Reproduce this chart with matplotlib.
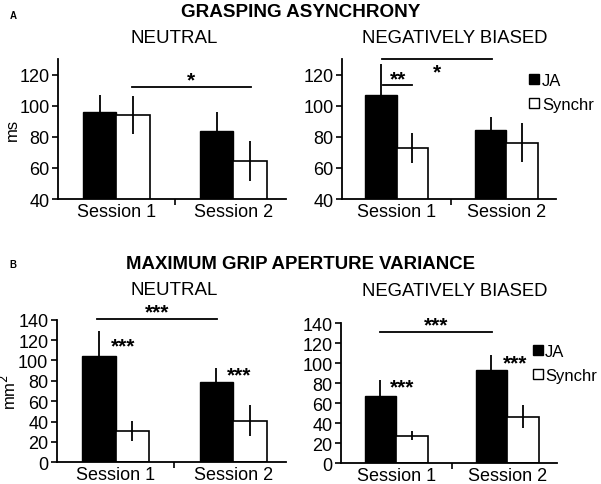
import matplotlib
matplotlib.use("Agg")
import matplotlib.pyplot as plt
from matplotlib.lines import Line2D
import numpy as np

# -- Data ---------------------------------------------------------------------
sessions = ["Session 1", "Session 2"]
groups = ["JA", "Synchr"]

# A: grasping asynchrony (ms)
async_neutral_ja = [96, 83.5]
async_neutral_ja_err = [11, 12.5]
async_neutral_sy = [94, 64.5]
async_neutral_sy_err = [12, 13]
async_neg_ja = [107, 84.5]
async_neg_ja_err = [20, 8.3]
async_neg_sy = [73, 76.3]
async_neg_sy_err = [9.7, 12.7]

# B: maximum grip aperture variance (mm^2)
mga_neutral_ja = [104.5, 78.5]
mga_neutral_ja_err = [24, 14]
mga_neutral_sy = [30.7, 40.9]
mga_neutral_sy_err = [10, 15.4]
mga_neg_ja = [67.6, 93.6]
mga_neg_ja_err = [15.7, 14.7]
mga_neg_sy = [27.6, 46.6]
mga_neg_sy_err = [4.2, 11.2]

FONT = "Liberation Sans"
BAR_W = 0.285
STAR_FS = 15


def draw_panel(ax, ja, ja_err, sy, sy_err, ylim, yticks, ylabel=None):
    x = np.arange(len(sessions))
    ax.bar(x - BAR_W / 2, ja, BAR_W, color="black", edgecolor="black", lw=1)
    ax.bar(x + BAR_W / 2, sy, BAR_W, color="white", edgecolor="black", lw=1.2)
    ax.errorbar(x - BAR_W / 2, ja, yerr=ja_err, fmt="none", ecolor="black",
                elinewidth=1.3, capsize=0)
    ax.errorbar(x + BAR_W / 2, sy, yerr=sy_err, fmt="none", ecolor="black",
                elinewidth=1.3, capsize=0)
    ax.set_xlim(-0.5, 1.45)
    ax.set_ylim(*ylim)
    ax.set_yticks(yticks)
    ax.set_xticks(x)
    ax.set_xticklabels(sessions, fontsize=13, family=FONT)
    ax.set_xticks([0.5], minor=True)
    ax.tick_params(axis="x", which="major", length=0, pad=3)
    ax.tick_params(axis="x", which="minor", length=4, width=1.2)
    ax.tick_params(axis="y", length=4, width=1.2, labelsize=13, pad=2)
    for lab in ax.get_yticklabels():
        lab.set_family(FONT)
    for s in ("top", "right"):
        ax.spines[s].set_visible(False)
    for s in ("left", "bottom"):
        ax.spines[s].set_linewidth(1.3)
    if ylabel:
        ax.set_ylabel(ylabel, fontsize=12, family=FONT)
        ax.yaxis.set_label_coords(-0.165, 0.5)


def stars(ax, x, y, label):
    ax.text(x, y, label, ha="center", va="center", fontsize=STAR_FS,
            fontweight="bold", family=FONT, clip_on=False)


def sig(ax, x0, x1, y, label, ty, tx=None):
    ax.plot([x0, x1], [y, y], color="black", lw=1.3, clip_on=False)
    if tx is None:
        tx = (x0 + x1) / 2
    stars(ax, tx, ty, label)


def legend(ax, x, y0):
    handles = [Line2D([], [], marker="s", ls="none", mfc="black", mec="black", ms=7),
               Line2D([], [], marker="s", ls="none", mfc="white", mec="black", ms=7)]
    ax.legend(handles, groups, loc="upper left", bbox_to_anchor=(x, y0),
              frameon=False, handlelength=0.5, handletextpad=0.2,
              labelspacing=0.55, prop={"family": FONT, "size": 12},
              borderaxespad=0)


fig = plt.figure(figsize=(6.01, 4.85), dpi=100)

axA1 = fig.add_axes([0.0965, 0.5876, 0.379, 0.2887])
axA2 = fig.add_axes([0.5686, 0.5876, 0.356, 0.2887])
axB1 = fig.add_axes([0.0943, 0.0447, 0.382, 0.294])
axB2 = fig.add_axes([0.567, 0.0427, 0.36, 0.2887])

draw_panel(axA1, async_neutral_ja, async_neutral_ja_err, async_neutral_sy,
           async_neutral_sy_err, (40, 130), [40, 60, 80, 100, 120], "ms")
draw_panel(axA2, async_neg_ja, async_neg_ja_err, async_neg_sy,
           async_neg_sy_err, (40, 130), [40, 60, 80, 100, 120])
draw_panel(axB1, mga_neutral_ja, mga_neutral_ja_err, mga_neutral_sy,
           mga_neutral_sy_err, (0, 140), list(range(0, 141, 20)), "mm$^2$")
draw_panel(axB2, mga_neg_ja, mga_neg_ja_err, mga_neg_sy,
           mga_neg_sy_err, (0, 140), list(range(0, 141, 20)))

# significance markers
sig(axA1, 0.13, 1.15, 111.7, "*", 116.5)
sig(axA2, -0.13, 0.87, 130, "*", 122)
sig(axA2, -0.12, 0.14, 113, "**", 117.5)
sig(axB1, -0.16, 0.86, 140.7, "***", 147.5)
stars(axB1, 0.06, 114, "***")
stars(axB1, 1.05, 86, "***")
sig(axB2, -0.15, 0.86, 131, "***", 138.5)
stars(axB2, 0.05, 76, "***")
stars(axB2, 1.07, 100.5, "***")

legend(axA2, 0.85, 0.95)
legend(axB2, 0.86, 0.9)

# titles
fig.text(0.5, 0.975, "GRASPING ASYNCHRONY", ha="center", va="center",
         fontsize=13.6, fontweight="bold", family=FONT)
fig.text(0.5, 0.455, "MAXIMUM GRIP APERTURE VARIANCE", ha="center",
         va="center", fontsize=13.4, fontweight="bold", family=FONT)
fig.text(0.022, 0.968, "A", ha="center", va="center", fontsize=7,
         fontweight="bold", family=FONT)
fig.text(0.022, 0.453, "B", ha="center", va="center", fontsize=7,
         fontweight="bold", family=FONT)
fig.text(0.289, 0.921, "NEUTRAL", ha="center", va="center", fontsize=13.5,
         family=FONT)
fig.text(0.757, 0.921, "NEGATIVELY BIASED", ha="center", va="center",
         fontsize=13.3, family=FONT)
fig.text(0.289, 0.402, "NEUTRAL", ha="center", va="center", fontsize=13.5,
         family=FONT)
fig.text(0.757, 0.398, "NEGATIVELY BIASED", ha="center", va="center",
         fontsize=13.3, family=FONT)

fig.savefig("out.png", dpi=100)
